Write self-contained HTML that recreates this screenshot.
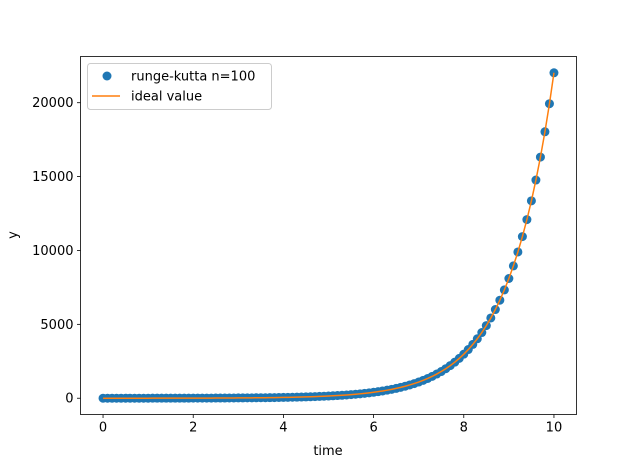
<!DOCTYPE html>
<html><head><meta charset="utf-8"><style>
html,body{margin:0;padding:0;background:#fff;}
svg{display:block;font-family:"DejaVu Sans","Liberation Sans",sans-serif;}
</style></head><body>
<svg id="chart" width="640" height="466" xmlns="http://www.w3.org/2000/svg">
<rect x="0" y="0" width="640" height="466" fill="#fff"/>
<g id="marks"></g>
<g id="axes"></g>
<text x="328" y="455" font-size="13" text-anchor="middle">time</text>
<text x="17" y="235" font-size="13" text-anchor="middle" transform="rotate(-90 17 235)">y</text>
<g>
<rect x="87.5" y="63.5" width="184" height="46" rx="3" fill="#fff" fill-opacity="0.8" stroke="#ccc"/>
<circle cx="107" cy="76" r="4.5" fill="#1f77b4"/>
<text x="131" y="80.5" font-size="13">runge-kutta n=100</text>
<line x1="92" y1="96" x2="120" y2="96" stroke="#ff7f0e" stroke-width="1.5"/>
<text x="131" y="100.5" font-size="13">ideal value</text>
</g>
</svg>
<script>
const times = [0,0.1,0.2,0.3,0.4,0.5,0.6,0.7,0.8,0.9,1,1.1,1.2,1.3,1.4,1.5,1.6,1.7,1.8,1.9,2,2.1,2.2,2.3,2.4,2.5,2.6,2.7,2.8,2.9,3,3.1,3.2,3.3,3.4,3.5,3.6,3.7,3.8,3.9,4,4.1,4.2,4.3,4.4,4.5,4.6,4.7,4.8,4.9,5,5.1,5.2,5.3,5.4,5.5,5.6,5.7,5.8,5.9,6,6.1,6.2,6.3,6.4,6.5,6.6,6.7,6.8,6.9,7,7.1,7.2,7.3,7.4,7.5,7.6,7.7,7.8,7.9,8,8.1,8.2,8.3,8.4,8.5,8.6,8.7,8.8,8.9,9,9.1,9.2,9.3,9.4,9.5,9.6,9.7,9.8,9.9,10];
const rkValues = [1,1.105,1.221,1.35,1.492,1.649,1.822,2.014,2.226,2.46,2.718,3.004,3.32,3.669,4.055,4.482,4.953,5.474,6.05,6.686,7.389,8.166,9.025,9.974,11.02,12.18,13.46,14.88,16.44,18.17,20.09,22.2,24.53,27.11,29.96,33.12,36.6,40.45,44.7,49.4,54.6,60.34,66.69,73.7,81.45,90.02,99.48,109.9,121.5,134.3,148.4,164,181.3,200.3,221.4,244.7,270.4,298.9,330.3,365,403.4,445.9,492.7,544.6,601.8,665.1,735.1,812.4,897.8,992.3,1096.6,1212,1339,1480,1636,1808,1998,2208,2441,2697,2981,3294,3641,4024,4447,4915,5432,6003,6634,7332,8103,8955,9897,10938,12088,13360,14765,16318,18034,19930,22026];
const idealValues = rkValues.slice();
const xTicks = [0,2,4,6,8,10];
const xTickLabels = ["0","2","4","6","8","10"];
const yTicks = [0,5000,10000,15000,20000];
const yTickLabels = ["0","5000","10000","15000","20000"];

const L=80.5,R=576.5,T=56.5,B=414.5;
const xmin=-0.5,xmax=10.5,ymin=-1101,ymax=23127;
const xs=v=>L+(v-xmin)/(xmax-xmin)*(R-L);
const ys=v=>B-(v-ymin)/(ymax-ymin)*(B-T);
const NS="http://www.w3.org/2000/svg";
function mk(tag,attrs,parent){const e=document.createElementNS(NS,tag);for(const k in attrs)e.setAttribute(k,attrs[k]);parent.appendChild(e);return e;}
const marks=document.getElementById('marks'), axes=document.getElementById('axes');

for(let i=0;i<times.length;i++){
  const c=mk('circle',{cx:xs(times[i]),cy:ys(rkValues[i]),r:4.5,fill:'#1f77b4'},marks);
  
  
}
const pl=mk('polyline',{points:times.map((t,i)=>xs(t)+','+ys(idealValues[i])).join(' '),fill:'none',stroke:'#ff7f0e','stroke-width':1.5},marks);



const frame=mk('rect',{x:L,y:T,width:R-L,height:B-T,fill:'none',stroke:'#000','stroke-width':0.8},axes);


xTicks.forEach((v,i)=>{
  const x=xs(v);
  const t=mk('line',{x1:x,y1:B,x2:x,y2:B+3.5,stroke:'#000','stroke-width':0.8},axes);
  
  
  const l=mk('text',{x:x,y:B+17,'font-size':13,'text-anchor':'middle'},axes);
  l.textContent=xTickLabels[i];
  
  
});
yTicks.forEach((v,i)=>{
  const y=ys(v);
  const t=mk('line',{x1:L-3.5,y1:y,x2:L,y2:y,stroke:'#000','stroke-width':0.8},axes);
  
  
  const l=mk('text',{x:L-7,y:y+4.5,'font-size':13,'text-anchor':'end'},axes);
  l.textContent=yTickLabels[i];
  
  
});
</script>
</body></html>
